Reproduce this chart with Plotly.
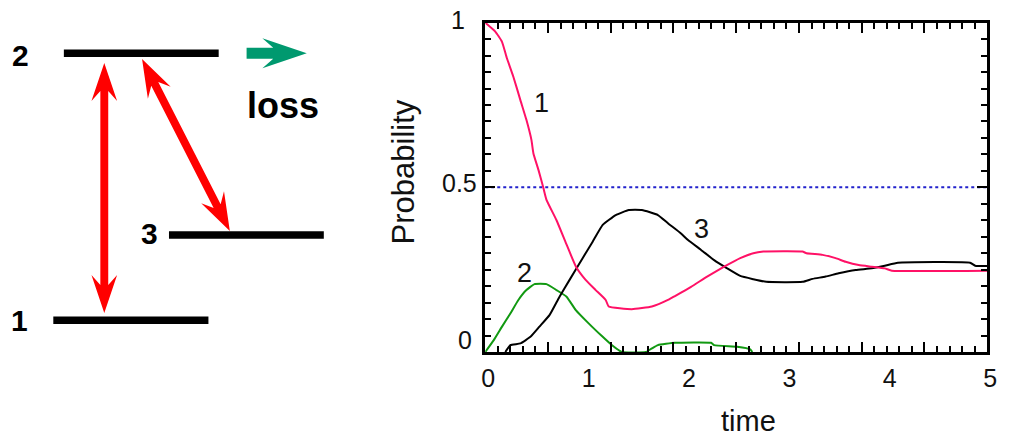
import math
import plotly.graph_objects as go

W, H = 1011, 440

# ---------------- data ----------------
t_state1 = [0, 0.10, 0.167, 0.216, 0.28, 0.35, 0.41, 0.46, 0.48, 0.53, 0.58, 0.61, 0.71, 0.805,
            0.904, 1.0, 1.1, 1.2, 1.23, 1.46, 1.66, 1.82, 1.89, 2.05, 2.21, 2.38, 2.54, 2.67,
            2.77, 3.16, 3.20, 3.36, 3.49, 3.59, 3.72, 3.85, 3.98, 4.05, 5.0]
p_state1 = [1.0, 0.973, 0.942, 0.892, 0.836, 0.765, 0.705, 0.644, 0.603, 0.553, 0.497, 0.462, 0.40, 0.33,
            0.259, 0.219, 0.188, 0.158, 0.138, 0.130, 0.138, 0.158, 0.170, 0.198, 0.229, 0.259, 0.285, 0.300,
            0.305, 0.305, 0.300, 0.295, 0.285, 0.274, 0.264, 0.259, 0.254, 0.247, 0.247]

t_state2 = [0, 0.085, 0.167, 0.25, 0.33, 0.41, 0.49, 0.61, 0.71, 0.81, 0.90, 1.03, 1.17, 1.26, 1.36,
            1.60, 1.66, 1.72, 1.89, 2.25, 2.28, 2.51, 2.64, 2.66]
p_state2 = [0, 0.036, 0.077, 0.117, 0.158, 0.188, 0.206, 0.206, 0.188, 0.168, 0.128, 0.087, 0.046, 0.021, 0.0,
            0.0, 0.011, 0.021, 0.028, 0.028, 0.021, 0.016, 0.008, 0.0]

t_state3 = [0.20, 0.25, 0.35, 0.45, 0.54, 0.64, 0.74, 0.84, 0.97, 1.07, 1.17, 1.30, 1.43, 1.56, 1.72,
            1.82, 1.95, 2.02, 2.15, 2.28, 2.41, 2.54, 2.67, 2.80, 3.16, 3.26, 3.39, 3.52, 3.69, 3.85,
            3.98, 4.11, 4.83, 4.88, 5.0]
p_state3 = [0.0, 0.021, 0.026, 0.046, 0.077, 0.112, 0.168, 0.219, 0.285, 0.335, 0.386, 0.416, 0.431, 0.431, 0.416,
            0.391, 0.360, 0.340, 0.310, 0.279, 0.254, 0.231, 0.221, 0.213, 0.213, 0.222, 0.229, 0.239, 0.249, 0.254,
            0.262, 0.271, 0.271, 0.262, 0.261]

half_t = [0, 5]
half_p = [0.5, 0.5]

x_tick_vals = [0, 1, 2, 3, 4, 5]
x_tick_text = ["0", "1", "2", "3", "4", "5"]
y_tick_vals = [0, 0.5, 1]
y_tick_text = ["0", "0.5", "1"]

curve_labels = ["1", "2", "3"]
curve_label_t = [0.56, 0.39, 2.15]
curve_label_p = [0.755, 0.24, 0.375]

PINK = "#ff1166"
GREEN = "#119911"
BLACK = "#000000"
BLUE = "#2222cc"
RED = "#ff0000"
TEAL = "#00996f"
FONT = "Liberation Sans, Arial, sans-serif"
TXT = "#111111"


# window pixel -> paper coordinate
def fx(x):
    return x / W


def fy(y):
    return 1 - y / H


X0, X1 = 488, 997
Y0, Y1 = 352, 22.7

line_kw = dict(width=2, shape="spline", smoothing=0.4)

fig = go.Figure()
fig.add_trace(go.Scatter(x=half_t, y=half_p, mode="lines",
                         line=dict(color=BLUE, width=2, dash="dot"), hoverinfo="skip"))
fig.add_trace(go.Scatter(x=t_state2, y=p_state2, mode="lines", line=dict(color=GREEN, **line_kw)))
fig.add_trace(go.Scatter(x=t_state3, y=p_state3, mode="lines", line=dict(color=BLACK, **line_kw)))
fig.add_trace(go.Scatter(x=t_state1, y=p_state1, mode="lines", line=dict(color=PINK, **line_kw)))
# invisible trace to activate the tick-only overlay axis
fig.add_trace(go.Scatter(x=[0, 5], y=[0, 0], xaxis="x2", mode="lines",
                         line=dict(width=0), hoverinfo="skip", showlegend=False))

fig.update_layout(
    width=W, height=H,
    margin=dict(l=0, r=0, t=0, b=0),
    paper_bgcolor="white", plot_bgcolor="white",
    showlegend=False,
    font=dict(family=FONT, color=TXT, size=25),
    xaxis=dict(domain=[fx(X0), fx(X1)], range=[0, 5], showgrid=False, zeroline=False,
               showline=True, linecolor="black", linewidth=3, mirror=True,
               tickvals=x_tick_vals, ticktext=x_tick_text, ticks="", ticklen=0,
               tickfont=dict(size=25, family=FONT, color=TXT), ticklabelstandoff=2,
               ticklabelshift=3),
    xaxis2=dict(overlaying="x", anchor="y", side="bottom", range=[0, 5], showgrid=False,
                zeroline=False, showline=False, showticklabels=False,
                ticks="inside", tick0=0, dtick=0.625, ticklen=10, tickwidth=2, tickcolor="black",
                mirror="ticks",
                minor=dict(ticks="inside", dtick=0.125, ticklen=6, tickwidth=2, tickcolor="black")),
    yaxis=dict(domain=[fy(Y0), fy(Y1)], range=[0, 1], showgrid=False, zeroline=False,
               showline=True, linecolor="black", linewidth=3, mirror="ticks",
               tickvals=y_tick_vals, ticktext=["", "", ""], ticks="inside", ticklen=10,
               tickwidth=2, tickcolor="black",
               minor=dict(ticks="inside", dtick=0.05, ticklen=6, tickwidth=2, tickcolor="black")),
)

annotations = []
# y tick labels (placed as text so their offsets match the original)
y_label_right = [477, 482, 470]
y_label_shift = [12, 4, 3]
for v, txt, xr, sh in zip(y_tick_vals, y_tick_text, y_label_right, y_label_shift):
    annotations.append(dict(x=fx(xr), xref="paper", y=v, yref="y", text=txt, showarrow=False,
                            xanchor="right", yanchor="middle", yshift=sh,
                            font=dict(size=25, family=FONT, color=TXT)))
# curve labels
for txt, t, p in zip(curve_labels, curve_label_t, curve_label_p):
    annotations.append(dict(x=t, y=p, xref="x", yref="y", text=txt, showarrow=False,
                            xanchor="center", yanchor="middle",
                            font=dict(size=27, family=FONT, color=TXT)))
# axis titles
annotations.append(dict(x=fx(406), y=fy(172), xref="paper", yref="paper", text="Probability",
                        textangle=-90, showarrow=False, xanchor="center", yanchor="middle",
                        font=dict(size=31, family=FONT, color=TXT)))
annotations.append(dict(x=fx(755), y=fy(421), xref="paper", yref="paper", text="time",
                        showarrow=False, xanchor="center", yanchor="middle",
                        font=dict(size=29, family=FONT, color=TXT)))

# ---------------- level diagram ----------------
levels = [  # (x_left, x_right, y_centre) in window pixels
    (60.7, 217.7, 53.3),
    (167.3, 324.3, 235.0),
    (50.0, 207.3, 320.3),
]
level_names = ["2", "3", "1"]
level_label_pos = [(17, 56), (148, 233), (16, 320)]

shapes = []
for (xl, xr, yc) in levels:
    shapes.append(dict(type="rect", xref="paper", yref="paper",
                       x0=fx(xl), x1=fx(xr), y0=fy(yc - 3.7), y1=fy(yc + 3.7),
                       fillcolor="black", line=dict(width=0)))
for name, (lx, ly) in zip(level_names, level_label_pos):
    annotations.append(dict(x=fx(lx), y=fy(ly), xref="paper", yref="paper", text="<b>%s</b>" % name,
                            showarrow=False, xanchor="center", yanchor="middle",
                            font=dict(size=30, family=FONT, color="black")))
annotations.append(dict(x=fx(283), y=fy(105), xref="paper", yref="paper", text="<b>loss</b>",
                        showarrow=False, xanchor="center", yanchor="middle",
                        font=dict(size=36, family=FONT, color="black")))


def arrow_path(ax, ay, bx, by, sw, hl, hn, hw, double=True):
    """Polygon for an arrow from A to B (head at B, and at A if double)."""
    d = math.hypot(bx - ax, by - ay)
    ux, uy = (bx - ax) / d, (by - ay) / d
    nx, ny = -uy, ux

    def P(px_, py_, along, side):
        return (px_ + ux * along + nx * side, py_ + uy * along + ny * side)

    pts = []
    if double:
        pts += [(ax, ay), P(ax, ay, hl, hw), P(ax, ay, hn, sw)]
    else:
        pts += [P(ax, ay, 0, sw)]
    pts += [P(bx, by, -hn, sw), P(bx, by, -hl, hw), (bx, by), P(bx, by, -hl, -hw), P(bx, by, -hn, -sw)]
    if double:
        pts += [P(ax, ay, hn, -sw), P(ax, ay, hl, -hw)]
    else:
        pts += [P(ax, ay, 0, -sw)]
    return "M " + " L ".join("%.5f,%.5f" % (fx(x), fy(y)) for x, y in pts) + " Z"


shapes.append(dict(type="path", xref="paper", yref="paper",
                   path=arrow_path(101.7, 63, 101.7, 313, 4, 38, 28, 13),
                   fillcolor=RED, line=dict(width=0)))
shapes.append(dict(type="path", xref="paper", yref="paper",
                   path=arrow_path(140, 59, 229, 231, 4, 38, 28, 13),
                   fillcolor=RED, line=dict(width=0)))
shapes.append(dict(type="path", xref="paper", yref="paper",
                   path=arrow_path(246, 53.3, 307, 53.3, 5.5, 45, 34, 15, double=False),
                   fillcolor=TEAL, line=dict(width=0)))

fig.update_layout(annotations=annotations, shapes=shapes)
fig.write_html("out.html", config={"displayModeBar": False},
               post_script="document.body.style.margin='0px';document.body.style.padding='0px';"
                           "document.body.style.overflow='hidden';")
